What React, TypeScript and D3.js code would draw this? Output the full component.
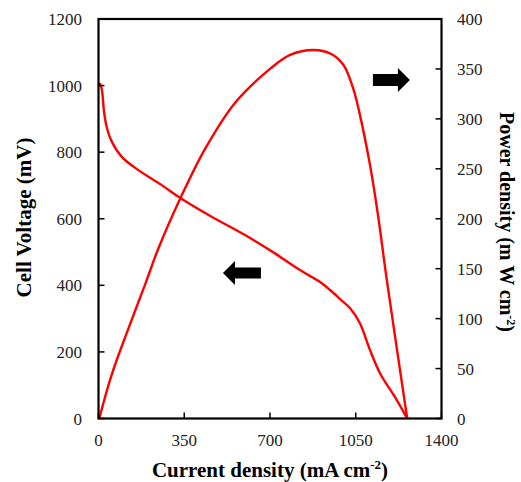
import React from "react";
import * as d3 from "d3";

const voltCurrent = [3, 10, 16, 22, 33, 54, 95, 163, 258, 337, 462, 598, 720, 822, 900, 945, 990, 1027, 1067, 1108, 1149, 1217, 1260];
const voltage = [1008, 1000, 975, 925, 877, 832, 786, 746, 701, 661, 606, 551, 496, 446, 412, 386, 356, 331, 286, 206, 136, 56, 0];

const powerCurrent = [3, 54, 122, 190, 244, 337, 435, 557, 700, 782, 877, 950, 1000, 1040, 1067, 1108, 1140, 1176, 1260];
const power = [0, 44, 90, 134, 170, 222, 270, 316, 350, 364, 369, 365, 354, 330, 304, 254, 205, 140, 0];

const xTicks = [0, 350, 700, 1050, 1400];
const yLeftTicks = [0, 200, 400, 600, 800, 1000, 1200];
const yRightTicks = [0, 50, 100, 150, 200, 250, 300, 350, 400];

const W = 521, H = 482;
const M = { left: 98.5, right: 441.5, top: 19, bottom: 418.5 };
const FONT = "'Liberation Serif', 'Times New Roman', serif";

export default function App() {
  const x = d3.scaleLinear().domain([0, 1400]).range([M.left, M.right]);
  const yL = d3.scaleLinear().domain([0, 1200]).range([M.bottom, M.top]);
  const yR = d3.scaleLinear().domain([0, 400]).range([M.bottom, M.top]);

  const vLine = d3.line<number>().x((_, i) => x(voltCurrent[i])).y((d) => yL(d)).curve(d3.curveCatmullRom.alpha(0.5));
  const pLine = d3.line<number>().x((_, i) => x(powerCurrent[i])).y((d) => yR(d)).curve(d3.curveCatmullRom.alpha(0.5));

  const leftArrowY = yL(437);
  const la = { tip: x(508), base: x(557), end: x(663) };
  const rightArrowY = yR(339);
  const ra = { start: x(1120), base: x(1222), tip: x(1271) };

  const leftArrow = `M${la.tip},${leftArrowY} L${la.base},${leftArrowY - 12} L${la.base},${leftArrowY - 5.5} L${la.end},${leftArrowY - 5.5} L${la.end},${leftArrowY + 5.5} L${la.base},${leftArrowY + 5.5} L${la.base},${leftArrowY + 12} Z`;
  const rightArrow = `M${ra.tip},${rightArrowY} L${ra.base},${rightArrowY - 12} L${ra.base},${rightArrowY - 6} L${ra.start},${rightArrowY - 6} L${ra.start},${rightArrowY + 6} L${ra.base},${rightArrowY + 6} L${ra.base},${rightArrowY + 12} Z`;

  const tickLen = 6;

  return (
    <svg width={W} height={H} style={{ position: "absolute", left: 0, top: 0 }} fontFamily={FONT}>
      <rect x={0} y={0} width={W} height={H} fill="#fff" />
      <path d={vLine(voltage) || ""} fill="none" stroke="#ff0000" strokeWidth={2.4} />
      <path d={pLine(power) || ""} fill="none" stroke="#ff0000" strokeWidth={2.4} />
      <path d={leftArrow} fill="#000" />
      <path d={rightArrow} fill="#000" />
      <rect x={M.left} y={M.top} width={M.right - M.left} height={M.bottom - M.top} fill="none" stroke="#000" strokeWidth={2.2} />
      {xTicks.map((t) => (
        <g key={"x" + t}>
          <line x1={x(t)} x2={x(t)} y1={M.bottom} y2={M.bottom - tickLen} stroke="#000" strokeWidth={1.5} />
          <text x={x(t)} y={446} textAnchor="middle" fontSize={17} fill="#222">{t}</text>
        </g>
      ))}
      {yLeftTicks.map((t) => (
        <g key={"yl" + t}>
          <line x1={M.left} x2={M.left + tickLen} y1={yL(t)} y2={yL(t)} stroke="#000" strokeWidth={1.5} />
          <text x={82} y={yL(t) + 6} textAnchor="end" fontSize={17} fill="#222">{t}</text>
        </g>
      ))}
      {yRightTicks.map((t) => (
        <g key={"yr" + t}>
          <line x1={M.right} x2={M.right - tickLen} y1={yR(t)} y2={yR(t)} stroke="#000" strokeWidth={1.5} />
          <text x={457} y={yR(t) + 6} textAnchor="start" fontSize={17} fill="#222">{t}</text>
        </g>
      ))}
      <text x={(M.left + M.right) / 2} y={477} textAnchor="middle" fontSize={21} fontWeight="bold">
        Current density (mA cm<tspan fontSize={13} dy={-8}>-2</tspan><tspan dy={8}>)</tspan>
      </text>
      <text transform={`translate(31,217.5) rotate(-90)`} textAnchor="middle" fontSize={21} fontWeight="bold">
        Cell Voltage (mV)
      </text>
      <text transform={`translate(500,222) rotate(90)`} textAnchor="middle" fontSize={20} fontWeight="bold">
        Power density (m W cm<tspan fontSize={12} dy={-7}>-2</tspan><tspan dy={7}>)</tspan>
      </text>
    </svg>
  );
}
